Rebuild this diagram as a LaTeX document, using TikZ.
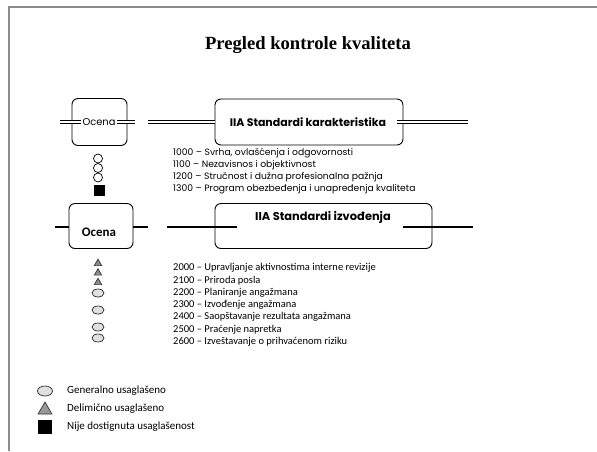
\documentclass[tikz,border=0pt]{standalone}
\usepackage{fontspec}
\setmainfont{Liberation Serif}
\newfontfamily\geofont{Poppins}
\newfontfamily\calfont{Carlito}
\usetikzlibrary{shapes.geometric}
\begin{document}
\begin{tikzpicture}[x=1pt,y=-1pt,
  box/.style={draw, rounded corners=6pt, line width=0.9pt, inner sep=0pt},
  dline/.style={draw=black, double=white, double distance=1.1pt, line width=1pt},
  tline/.style={draw, line width=2.6pt},
  itemA/.style={anchor=west, inner sep=0pt, font=\geofont\fontsize{9.2}{10}\selectfont},
  itemB/.style={anchor=west, inner sep=0pt, font=\calfont\fontsize{10.5}{11}\selectfont},
  legtext/.style={anchor=west, inner sep=0pt, font=\calfont\fontsize{11}{12}\selectfont},
  ring/.style={circle, draw, line width=0.7pt, fill=white, minimum size=9pt, inner sep=0pt},
  blk/.style={rectangle, fill=black, draw=black, minimum size=10pt, inner sep=0pt},
  tri/.style={regular polygon, regular polygon sides=3, draw=black!80, line width=0.7pt, fill=black!45, minimum size=8.5pt, inner sep=0pt},
  ell/.style={ellipse, draw=black!85, line width=0.7pt, fill=black!12, minimum width=12pt, minimum height=8pt, inner sep=0pt}
]
\fill[white] (0,0) rectangle (597,451);
\useasboundingbox (0,0) rectangle (597,451);
% frame lines
\coordinate (f1) at (9,451);
\coordinate (f2) at (9,7);
\coordinate (f3) at (597,7);
\draw[black!45, line width=1.8pt] (f1) -- (f2) -- (f3);

% title
\node[font=\bfseries\fontsize{18.6}{20}\selectfont] (title) at (308,45) {Pregled kontrole kvaliteta};

% row 1
\node[box, minimum width=55pt, minimum height=47pt] (oc1) at (99.5,122) {};
\node[font=\geofont\fontsize{9.9}{11}\selectfont, inner sep=1.5pt] (oc1t) at (99,122) {Ocena};
\coordinate (a1) at (60,122);
\coordinate (a2) at (135,122);
\draw[dline] (a1) -- (oc1t.west);
\draw[dline] (oc1t.east) -- (a2);

\node[box, minimum width=188pt, minimum height=46pt] (k1) at (309,122) {};
\node[font=\geofont\bfseries\fontsize{11}{12}\selectfont] (k1t) at (308,122) {IIA Standardi karakteristika};
\coordinate (b1) at (148,122);
\coordinate (b2) at (468,122);
\draw[dline] (b1) -- (k1.west);
\draw[dline] ([xshift=-6pt]k1.east) -- (b2);

\node[itemA] (s1) at (173,153) {1000 – Svrha, ovlašćenja i odgovornosti};
\node[itemA] (s2) at (173,165) {1100 – Nezavisnos i objektivnost};
\node[itemA] (s3) at (173,177) {1200 – Stručnost i dužna profesionalna pažnja};
\node[itemA] (s4) at (173,189) {1300 – Program obezbeđenja i unapređenja kvaliteta};

\node[ring] (r1) at (98,158.5) {};
\node[ring] (r2) at (98,168) {};
\node[ring] (r3) at (98,177.5) {};
\node[blk] (q1) at (99,190) {};

% row 2
\node[box, minimum width=64pt, minimum height=45pt] (oc2) at (101,226) {};
\node[font=\calfont\bfseries\fontsize{13}{14}\selectfont] (oc2t) at (99,232) {Ocena};
\coordinate (c1) at (55,227);
\coordinate (c2) at (148,227);
\draw[tline] (c1) -- (oc2.west |- c1);
\draw[tline] (oc2.east |- c2) -- (c2);

\node[box, minimum width=217pt, minimum height=45pt] (k2) at (323.5,226) {};
\node[font=\geofont\bfseries\fontsize{11.4}{12}\selectfont] (k2t) at (323,217) {IIA Standardi izvođenja};
\coordinate (d1) at (167,227);
\coordinate (d2) at (473,227);
\draw[tline] (d1) -- ([xshift=22pt]k2.west |- d1);
\draw[tline] ([xshift=-29pt]k2.east |- d2) -- (d2);

\node[itemB] (t1) at (173,268) {2000 – Upravljanje aktivnostima interne revizije};
\node[itemB] (t2) at (173,280.3) {2100 – Priroda posla};
\node[itemB] (t3) at (173,292.6) {2200 – Planiranje angažmana};
\node[itemB] (t4) at (173,304.9) {2300 – Izvođenje angažmana};
\node[itemB] (t5) at (173,317.2) {2400 – Saopštavanje rezultata angažmana};
\node[itemB] (t6) at (173,329.5) {2500 – Praćenje napretka};
\node[itemB] (t7) at (173,341.8) {2600 – Izveštavanje o prihvaćenom riziku};

\node[tri] (g1) at (98,263.5) {};
\node[tri] (g2) at (98,273) {};
\node[tri] (g3) at (98,282.5) {};
\node[ell] (e1) at (98,293) {};
\node[ell] (e2) at (98,310) {};
\node[ell] (e3) at (98,327) {};
\node[ell] (e4) at (98,338) {};

% legend
\node[ell, minimum width=15pt, minimum height=10pt] (le) at (45,391) {};
\node[tri, minimum size=16pt, fill=black!40] (lt) at (45,410) {};
\node[blk, minimum size=13pt] (lq) at (45,427) {};
\node[legtext] (lte) at (67,391) {Generalno usaglašeno};
\node[legtext] (ltt) at (67,409) {Delimično usaglašeno};
\node[legtext] (ltq) at (67,427) {Nije dostignuta usaglašenost};
\end{tikzpicture}
\end{document}
